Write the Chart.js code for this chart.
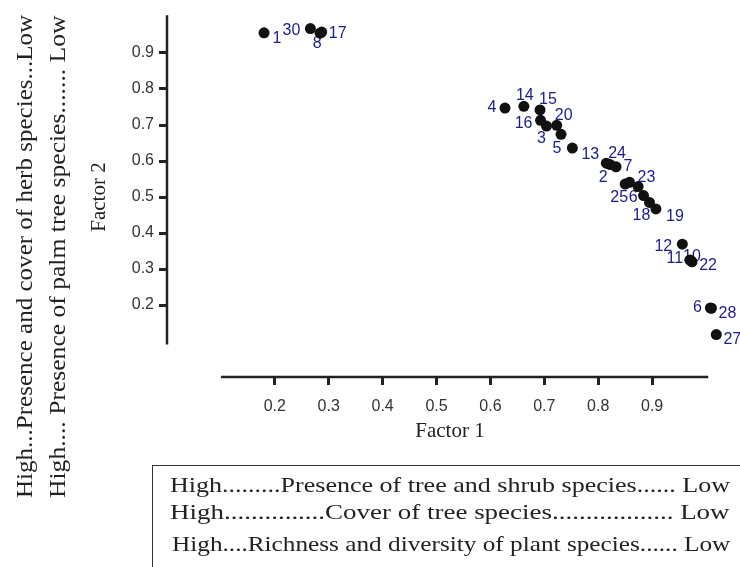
<!DOCTYPE html>
<html>
<head>
<meta charset="utf-8">
<script src="https://cdn.jsdelivr.net/npm/chart.js@4.4.1/dist/chart.umd.min.js"></script>
<style>
  html, body { margin: 0; padding: 0; background: #fff; }
  #wrap { position: relative; width: 740px; height: 567px; overflow: hidden; }
  #chart { position: absolute; left: 0; top: 0; }
  .txt { position: absolute; left: 0; top: 0; white-space: nowrap; color: #222;
         font-family: "Liberation Serif", "Times New Roman", serif; transform-origin: 0 0; }
  .side { font-size: 24px; line-height: 24px; }
  .key  { font-size: 21px; line-height: 20px; }
  #box { position: absolute; left: 152px; top: 465px; width: 700px; height: 200px;
         border: 1.5px solid #333; }
</style>
</head>
<body>
<div id="wrap">
  <canvas id="chart" width="740" height="567"></canvas>
  <div id="box"></div>
  <div class="txt side" id="side1">High...Presence and cover of herb species...Low</div>
  <div class="txt side" id="side2">High.... Presence of palm tree species....... Low</div>
  <div class="txt key" id="key1">High.........Presence of tree and shrub species...... Low</div>
  <div class="txt key" id="key2">High...............Cover of tree species.................. Low</div>
  <div class="txt key" id="key3">High....Richness and diversity of plant species...... Low</div>
</div>
<script>
'use strict';

/* ── DATA ── */
const siteLabels = ['1', '30', '8', '17', '4', '14', '15', '16', '3', '20', '5', '13', '2', '24',
                    '7', '25', '23', '6', '', '18', '19', '12', '11', '10', '22', '6', '28', '27'];
const factor1 = [0.180, 0.266, 0.284, 0.287, 0.627, 0.662, 0.692, 0.693, 0.704, 0.723, 0.731, 0.752,
                 0.815, 0.822, 0.833, 0.850, 0.858, 0.874, 0.884, 0.895, 0.907, 0.956, 0.970, 0.972,
                 0.974, 1.008, 1.010, 1.019];
const factor2 = [0.956, 0.968, 0.955, 0.958, 0.747, 0.752, 0.742, 0.713, 0.697, 0.699, 0.674, 0.636,
                 0.594, 0.590, 0.584, 0.536, 0.541, 0.529, 0.504, 0.485, 0.467, 0.369, 0.325, 0.323,
                 0.320, 0.192, 0.191, 0.118];
const xTicks = [0.2, 0.3, 0.4, 0.5, 0.6, 0.7, 0.8, 0.9];
const yTicks = [0.2, 0.3, 0.4, 0.5, 0.6, 0.7, 0.8, 0.9];

/* ── LAYOUT (label offsets in px, axis line spans in data units) ── */
const labelOffsets = [
  [13, 6], [-19, 2], [-3, 10], [16, 1], [-13, 0], [1, -11], [8, -10], [-17, 3], [-5, 13], [7, -10],
  [-4, 14], [18, 7], [-3, 14], [7, -11], [12, 0], [-6, 14], [17, -5], [-5, 11], [0, 0], [-8, 13],
  [19, 8], [-19, 2], [-15, -1], [1, -4], [16, 4], [-13, 0], [16, 5], [16, 5],
];
const xAxisSpan = [0.1, 1.004];
const yAxisSpan = [0.09, 1.005];

const INK   = '#222';
const NAVY  = '#1c1c8c';

/* ── PLUGINS ── */
const axisLines = {
  id: 'axisLines',
  afterDraw(chart) {
    const { ctx, chartArea, scales: { x, y } } = chart;
    ctx.save();
    ctx.strokeStyle = INK;
    ctx.lineWidth = 2.5;
    ctx.beginPath();
    ctx.moveTo(chartArea.left, y.getPixelForValue(yAxisSpan[1]));
    ctx.lineTo(chartArea.left, y.getPixelForValue(yAxisSpan[0]));
    ctx.moveTo(x.getPixelForValue(xAxisSpan[0]), chartArea.bottom);
    ctx.lineTo(x.getPixelForValue(xAxisSpan[1]), chartArea.bottom);
    ctx.stroke();
    ctx.restore();
  },
};

const siteNames = {
  id: 'siteNames',
  beforeDatasetsDraw(chart) {
    const { ctx } = chart;
    const meta = chart.getDatasetMeta(0);
    ctx.save();
    ctx.font = '16px "Liberation Sans", Arial, sans-serif';
    ctx.fillStyle = NAVY;
    ctx.textAlign = 'center';
    ctx.textBaseline = 'middle';
    meta.data.forEach((pt, i) => {
      const [dx, dy] = labelOffsets[i];
      ctx.fillText(siteLabels[i], pt.x + dx, pt.y + dy);
    });
    ctx.restore();
  },
};

const xTitle = {
  id: 'xTitle',
  afterDraw(chart) {
    const { ctx, chartArea } = chart;
    ctx.save();
    ctx.font = `${titleFont.size}px ${titleFont.family}`;
    ctx.fillStyle = INK;
    ctx.textAlign = 'center';
    ctx.textBaseline = 'middle';
    ctx.fillText('Factor 1', (chartArea.left + chartArea.right) / 2, chartArea.bottom + 54);
    ctx.restore();
  },
};

/* ── CHART ── */
const tickFont  = { family: '"Liberation Sans", Arial, sans-serif', size: 16 };
const titleFont = { family: '"Liberation Serif", "Times New Roman", serif', size: 21 };

new Chart(document.getElementById('chart'), {
  type: 'scatter',
  data: {
    datasets: [{
      data: factor1.map((v, i) => ({ x: v, y: factor2[i] })),
      backgroundColor: '#111',
      borderWidth: 0,
      pointRadius: 5.5,
      clip: false,
    }],
  },
  options: {
    responsive: false,
    animation: false,
    events: [],
    layout: { padding: { left: 87, right: 7, top: 17, bottom: 123 } },
    plugins: { legend: { display: false }, tooltip: { enabled: false } },
    scales: {
      x: {
        type: 'linear', min: 0, max: 1.05,
        afterBuildTicks: s => { s.ticks = xTicks.map(v => ({ value: v })); },
        afterFit: s => { s.height = 67; },
        border: { display: false },
        grid: { drawOnChartArea: false, drawTicks: true, tickLength: 8, tickColor: INK, tickWidth: 3 },
        ticks: { color: '#333', font: tickFont, padding: 12, maxRotation: 0, autoSkip: false,
                 callback: v => v.toFixed(1) },
      },
      y: {
        type: 'linear', min: 0, max: 1,
        afterBuildTicks: s => { s.ticks = yTicks.map(v => ({ value: v })); },
        afterFit: s => { s.width = 80; },
        border: { display: false },
        grid: { drawOnChartArea: false, drawTicks: true, tickLength: 8, tickColor: INK, tickWidth: 3 },
        ticks: { color: '#333', font: tickFont, padding: 5, autoSkip: false,
                 callback: v => v.toFixed(1) },
        title: { display: true, text: 'Factor 2', color: INK, font: titleFont, padding: 0 },
      },
    },
  },
  plugins: [axisLines, siteNames, xTitle],
});

/* ── SIDE AND KEY TEXTS ── */
function placeSide(id, left, bottom, len) {
  const el = document.getElementById(id);
  const k = len / el.offsetWidth;
  el.style.transform = `translate(${left}px, ${bottom}px) rotate(-90deg) scaleX(${k})`;
}

function placeKey(id, left, baseline, right) {
  const el = document.getElementById(id);
  const k = (right - left) / el.offsetWidth;
  el.style.transform = `translate(${left}px, ${baseline - 16.5}px) scaleX(${k})`;
}

placeSide('side1', 12, 498, 483);
placeSide('side2', 45, 498, 483);
placeKey('key1', 170, 491, 730);
placeKey('key2', 170, 518, 730);
placeKey('key3', 172, 550, 730);
</script>
</body>
</html>
